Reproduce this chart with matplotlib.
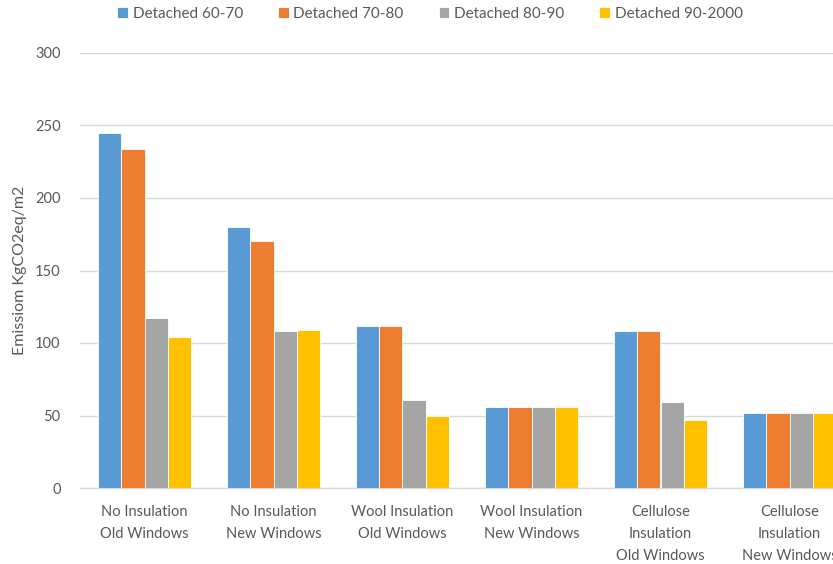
import numpy as np
import matplotlib.pyplot as plt

plt.rcParams['font.family'] = ['Lato', 'DejaVu Sans']

categories = ['No Insulation\nOld Windows', 'No Insulation\nNew Windows',
              'Wool Insulation\nOld Windows', 'Wool Insulation\nNew Windows',
              'Cellulose\nInsulation\nOld Windows', 'Cellulose\nInsulation\nNew Windows']
series = ['Detached 60-70', 'Detached 70-80', 'Detached 80-90', 'Detached 90-2000']
d60_70 = [245, 180, 112, 56, 108, 52]
d70_80 = [234, 170, 112, 56, 108, 52]
d80_90 = [117, 108, 61, 56, 59, 52]
d90_2000 = [104, 109, 50, 56, 47, 52]
colors = ['#5B9BD5', '#ED7D31', '#A5A5A5', '#FFC000']

fig = plt.figure(figsize=(8.33, 5.64), dpi=100)
# plot area runs a little past the right edge of the figure
ax = fig.add_axes([80/833, 1 - 488/564, 774/833, 435/564])

x = np.arange(len(categories))
w = 0.18
for i, (vals, name) in enumerate(zip([d60_70, d70_80, d80_90, d90_2000], series)):
    ax.bar(x + (i - 1.5) * w, vals, w, color=colors[i], label=name,
           edgecolor='white', linewidth=0.6, zorder=3)

ax.set_xlim(-0.5, len(categories) - 0.5)
ax.set_ylim(0, 300)
ax.set_yticks(range(0, 301, 50))
ax.grid(axis='y', color='#D9D9D9', linewidth=1, zorder=0)
for s in ['top', 'right', 'left']:
    ax.spines[s].set_visible(False)
ax.spines['bottom'].set_color('#D9D9D9')
ax.spines['bottom'].set_linewidth(1)
ax.tick_params(axis='both', length=0, colors='#595959', labelsize=10.5)
ax.tick_params(axis='x', pad=12)
ax.tick_params(axis='y', pad=14)
ax.set_xticks(x)
ax.set_xticklabels(categories, linespacing=1.75)
ax.set_ylabel('Emissiom KgCO2eq/m2', color='#595959', fontsize=11.5, labelpad=6)

fig.legend(loc='center', bbox_to_anchor=(430/833, 1 - 14/564), ncol=4, frameon=False,
           fontsize=11, labelcolor='#595959', handlelength=0.7, handleheight=0.7,
           handletextpad=0.3, columnspacing=2.3)

fig.savefig('out.png', dpi=100)
